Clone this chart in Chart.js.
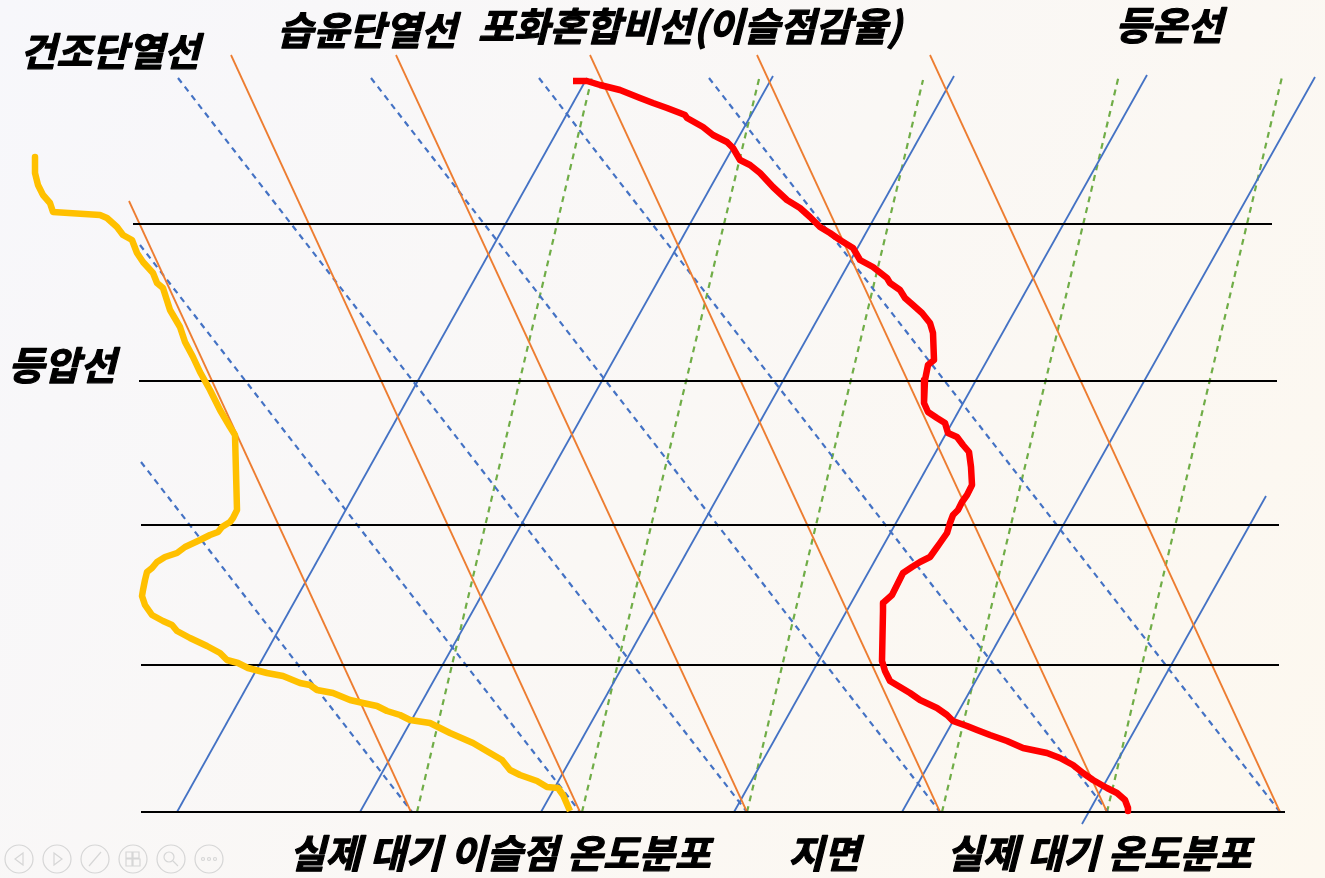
<!DOCTYPE html>
<html>
<head>
<meta charset="utf-8">
<script src="https://cdn.jsdelivr.net/npm/chart.js@4"></script>
<style>
  html, body { margin: 0; padding: 0; overflow: hidden; }
  canvas { display: block; }
</style>
</head>
<body>
<canvas id="myChart" width="1325" height="878"></canvas>
<script>
// diagram coordinates: x to the right, y downward (0..878)
const isobars = [[133, 224, 1272, 224], [139, 381, 1277, 381], [141, 525, 1279, 525], [141, 665, 1279, 665], [141, 812, 1285, 812]];
const dryAdiabats = [[129, 201, 411, 812], [231, 55, 580, 812], [396, 55, 747, 812], [590, 55, 940, 812], [757, 55, 1107, 812], [930, 55, 1280, 812]];
const moistAdiabats = [[141, 462, 412, 812], [140, 245, 580, 812], [178, 78, 747, 812], [371, 78, 940, 812], [539, 78, 1108, 812], [709, 78, 1280, 812]];
const isotherms = [[177, 812, 587, 78], [360, 812, 773, 76], [541, 812, 954, 76], [734, 812, 1147, 75], [902, 812, 1315, 77], [1082, 824, 1266, 496]];
const mixingRatio = [[417, 812, 592, 77], [582, 812, 760, 75], [747, 812, 923, 80], [942, 812, 1119, 75], [1107, 812, 1282, 77]];

const dewX = [35, 35, 38, 43, 50, 53, 100, 107, 117, 123, 132, 137, 143, 153, 157, 163, 170, 180, 185, 193, 200, 210, 220, 230, 235, 237, 233, 230, 222, 218, 210, 200, 185, 177, 165, 157, 152, 147, 145, 143, 142, 145, 152, 163, 172, 177, 190, 207, 220, 227, 238, 248, 267, 283, 300, 310, 317, 333, 350, 363, 377, 387, 400, 410, 430, 450, 473, 490, 502, 510, 520, 537, 547, 558, 563, 570];
const dewY = [157, 173, 185, 195, 203, 212, 215, 218, 227, 235, 240, 253, 262, 273, 283, 288, 310, 327, 342, 357, 372, 390, 410, 427, 435, 510, 518, 522, 527, 532, 535, 540, 547, 553, 557, 562, 568, 572, 580, 590, 596, 605, 615, 621, 625, 631, 638, 646, 653, 660, 663, 668, 673, 676, 683, 685, 690, 693, 700, 703, 706, 711, 715, 720, 723, 733, 743, 753, 760, 770, 775, 781, 787, 788, 795, 811];

const tempX = [573, 587, 600, 620, 640, 653, 667, 680, 685, 687, 703, 713, 727, 733, 740, 750, 760, 773, 787, 800, 810, 820, 830, 840, 853, 860, 873, 887, 890, 900, 905, 913, 922, 930, 933, 934, 928, 925, 924, 928, 937, 945, 948, 957, 963, 969, 971, 972, 967, 962, 958, 953, 950, 947, 940, 935, 930, 920, 912, 903, 897, 892, 883, 883, 882, 885, 890, 910, 920, 937, 947, 953, 967, 977, 990, 1007, 1023, 1047, 1060, 1073, 1083, 1093, 1107, 1117, 1125, 1128, 1128];
const tempY = [81, 81, 85, 90, 98, 103, 108, 113, 115, 118, 127, 135, 142, 148, 160, 165, 173, 187, 200, 208, 217, 227, 233, 240, 248, 260, 267, 278, 283, 290, 298, 305, 313, 323, 333, 360, 365, 380, 403, 412, 418, 423, 433, 437, 445, 452, 467, 485, 495, 502, 510, 515, 523, 533, 543, 550, 557, 562, 567, 573, 585, 595, 603, 611, 661, 671, 681, 693, 700, 708, 715, 721, 726, 730, 735, 741, 748, 753, 758, 765, 773, 780, 788, 793, 800, 808, 811];

const labels = ['건조단열선', '습윤단열선', '포화혼합비선(이슬점감율)', '등온선', '등압선', '실제 대기 이슬점 온도분포', '지면', '실제 대기 온도분포'];
const labelX = [110, 367, 690, 1169, 62, 500, 824, 1099];
const labelY = [51, 30, 26, 25, 365, 853, 853, 853];

function segs(list, style) {
    return list.map(s => Object.assign({
        data: [{x: s[0], y: s[1]}, {x: s[2], y: s[3]}],
        showLine: true,
        pointRadius: 0,
        fill: false,
        order: 5
    }, style));
}

function curve(xs, ys, color) {
    return {
        data: xs.map((x, i) => ({x: x, y: ys[i]})),
        showLine: true,
        pointRadius: 0,
        borderColor: color,
        borderWidth: 6.5,
        borderJoinStyle: 'round',
        borderCapStyle: 'butt',
        tension: 0,
        fill: false,
        order: 0
    };
}

const datasets = [
    curve(tempX, tempY, '#FF0000'),
    curve(dewX, dewY, '#FFC000')
]
    .concat(segs(isobars, {borderColor: '#000000', borderWidth: 2}))
    .concat(segs(dryAdiabats, {borderColor: '#ED7D31', borderWidth: 1.8}))
    .concat(segs(isotherms, {borderColor: '#4472C4', borderWidth: 1.8}))
    .concat(segs(moistAdiabats, {borderColor: '#4472C4', borderWidth: 2.2, borderDash: [6, 5]}))
    .concat(segs(mixingRatio, {borderColor: '#70AD47', borderWidth: 2.2, borderDash: [6, 5]}));

const background = {
    id: 'background',
    beforeDraw(chart) {
        const c = chart.ctx;
        const g = c.createLinearGradient(0, 0, chart.width, chart.height);
        g.addColorStop(0, '#F7F7FB');
        g.addColorStop(1, '#FDF8EF');
        c.save();
        c.fillStyle = g;
        c.fillRect(0, 0, chart.width, chart.height);
        // faint slide-show controls, bottom left
        c.strokeStyle = '#D6D6D6';
        c.lineWidth = 1.2;
        [19, 57, 95, 133, 171, 209].forEach((cx, i) => {
            const cy = 859;
            c.beginPath();
            c.arc(cx, cy, 14, 0, Math.PI * 2);
            c.stroke();
            c.beginPath();
            if (i === 0) { c.moveTo(23, 853); c.lineTo(15, 859); c.lineTo(23, 865); c.closePath(); }
            if (i === 1) { c.moveTo(54, 853); c.lineTo(62, 859); c.lineTo(54, 865); c.closePath(); }
            if (i === 2) { c.moveTo(89, 866); c.lineTo(101, 852); }
            if (i === 3) { c.rect(126, 852, 6, 6); c.rect(133, 852, 6, 6); c.rect(126, 859, 6, 7); c.rect(133, 859, 7, 7); }
            if (i === 4) { c.arc(169, 857, 5, 0, Math.PI * 2); c.moveTo(173, 861); c.lineTo(178, 866); }
            if (i === 5) { c.arc(203, 859, 1.5, 0, Math.PI * 2); c.moveTo(210.5, 859); c.arc(209, 859, 1.5, 0, Math.PI * 2); c.moveTo(216.5, 859); c.arc(215, 859, 1.5, 0, Math.PI * 2); }
            c.stroke();
        });
        c.restore();
    }
};

const textLabels = {
    id: 'textLabels',
    afterDatasetsDraw(chart) {
        const c = chart.ctx;
        const xs = chart.scales.x, ys = chart.scales.y;
        c.save();
        c.fillStyle = '#000000';
        c.strokeStyle = '#000000';
        c.lineWidth = 1.2;
        c.lineJoin = 'round';
        c.font = "italic bold 39px 'Noto Sans CJK KR', 'Noto Sans', sans-serif";
        c.textAlign = 'center';
        c.textBaseline = 'middle';
        labels.forEach((t, i) => {
            const px = xs.getPixelForValue(labelX[i]), py = ys.getPixelForValue(labelY[i]);
            c.fillText(t, px, py);
            c.strokeText(t, px, py);
        });
        c.restore();
    }
};

const ctx = document.getElementById('myChart').getContext('2d');
const myChart = new Chart(ctx, {
    type: 'scatter',
    data: { datasets: datasets },
    options: {
        responsive: false,
        animation: false,
        layout: { padding: 0 },
        plugins: {
            legend: { display: false },
            tooltip: { enabled: false }
        },
        scales: {
            x: { type: 'linear', min: 0, max: 1325, display: false },
            y: { type: 'linear', min: 0, max: 878, reverse: true, display: false }
        }
    },
    plugins: [background, textLabels]
});
</script>
</body>
</html>
